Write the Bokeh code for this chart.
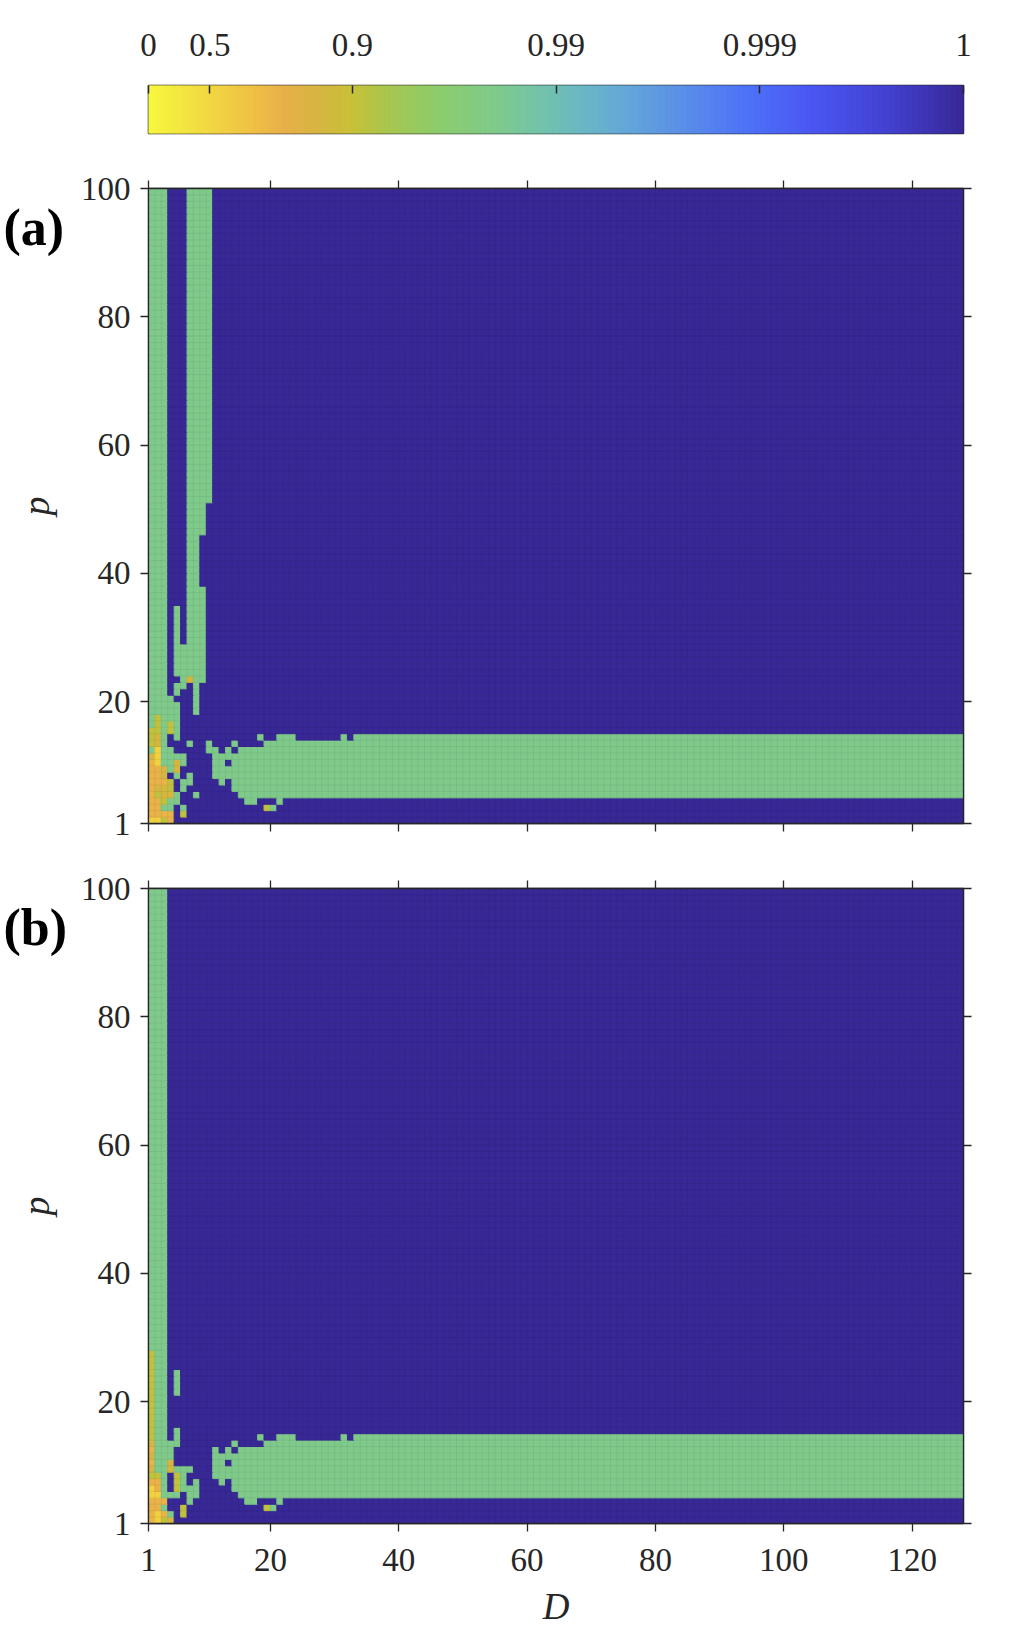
import numpy as np
from bokeh.plotting import figure
from bokeh.layouts import column, row
from bokeh.models import (Range1d, LinearAxis, FixedTicker, CustomJSTickFormatter,
                          ColumnDataSource)
from bokeh.core.properties import value
from bokeh.embed import file_html
from bokeh.resources import INLINE

# ------------------------------------------------------------------ data
D_RANGE = (1, 128)          # x axis (D)
P_RANGE = (1, 100)          # y axis (p)
N_D_CELLS = 127
N_P_CELLS = 99
D_TICKS = [1, 20, 40, 60, 80, 100, 120]
P_TICKS = [1, 20, 40, 60, 80, 100]

CBAR_TICK_VALUES = [0, 0.5, 0.9, 0.99, 0.999, 1]
CBAR_TICK_LABELS = ["0", "0.5", "0.9", "0.99", "0.999", "1"]

# value of each cell code (value shown on the colour bar)
CODE_VALUES = {"B": 1.0, "G": 0.98, "K": 0.91, "L": 0.86, "O": 0.77, "Y": 0.56}

# blocks of cells: (D_first, D_last, p_first, p_last, code); cell (D, p) spans [D, D+1] x [p, p+1]
A_BLOCKS = [
    (1, 3, 1, 99, "G"),
    (7, 10, 51, 99, "G"),
    (7, 9, 46, 50, "G"),
    (7, 8, 38, 45, "G"),
    (7, 9, 24, 37, "G"),
    (5, 5, 24, 34, "G"),
    (6, 6, 24, 28, "G"),
    (37, 127, 5, 14, "G"),
]
B_BLOCKS = [
    (1, 3, 1, 99, "G"),
    (1, 1, 14, 27, "K"),
    (5, 5, 21, 24, "G"),
    (37, 127, 5, 14, "G"),
]

# lower-left detail, D = 1..10, rows from p = 23 (top) down to p = 1
A_DETAIL_LEFT = [
    "GGGBBGLGGB", "GGGBGGBGBB", "GGGBGBBGBB", "GGGGBBBGBB", "GGGGGBBGBB",
    "GGGGGBBGBB", "GKGGGBBBBB", "GKGKGBBBBB", "KKGKGBBBBB", "KLGBGBBBBB",
    "KLGBBBGBBG", "GYGGBBBBBG", "LYGGGGBBBB", "OYGGLGBBBB", "OOLGLBBBBB",
    "OOLBGBGBBB", "OOOKBGGBBB", "OLLKBGBBBB", "OKLLGBBGBB", "OOKGGBBBBB",
    "OOGGBGBBBB", "OOOOBKBBBB", "YYKOBBBBBB",
]
B_DETAIL_LEFT = [
    "KGGBGBBBBB", "KGGBGBBBBB", "KGGBGBBBBB", "KGGBBBBBBB", "KGGBBBBBBB",
    "KGGBBBBBBB", "KGGBBBBBBB", "KGGBBBBBBB", "KGGBGBBBBB", "KGGBGBBBBB",
    "LGGGGBBBBB", "OGGGBBBBBB", "LGGGBBBBBB", "OGGLBBBBBB", "LGGLGGGBBB",
    "KKGBKGBBBB", "OOGBKGBGBB", "YOGBKGGGBB", "YYGGGBGGBB", "OOOBBBGBBB",
    "OOGBBKBBBB", "OYOGBKBBBB", "OYKLBBBBBB",
]
# start of the horizontal band, D = 11..36, rows p = 23 .. 1 (same in both panels)
BAND_DETAIL = [
    "B" * 26, "B" * 26, "B" * 26, "B" * 26, "B" * 26,
    "B" * 26, "B" * 26, "B" * 26, "B" * 26,
    "BBBBBBBGBBGGGBBBBBBBGBGGGG",
    "BBBGBBBB" + "G" * 18,
    "GBGB" + "G" * 22,
    "G" * 26,
    "GGB" + "G" * 23,
    "G" * 26,
    "G" * 26,
    "BGB" + "G" * 23,
    "BBB" + "G" * 23,
    "BBBB" + "G" * 22,
    "BBBBBGGBBBGBBBBBBBBBBBBBBB",
    "BBBBBBBBKGBBBBBBBBBBBBBBBB",
    "B" * 26,
    "B" * 26,
]

# colour map anchors (position along colour bar 0..1 -> colour)
CMAP_POS = [0.0, 0.055, 0.119, 0.166, 0.214, 0.25, 0.293, 0.356, 0.42, 0.475,
            0.515, 0.578, 0.657, 0.74, 0.815, 0.91, 1.0]
CMAP_HEX = ["#f8f83e", "#f2e040", "#f0c444", "#e8b04a", "#d4b640", "#c8c038",
            "#a8c64e", "#8ccc6c", "#80cb88", "#74c4a6", "#6cbcbc", "#64aad6",
            "#5a8ee8", "#4c70f8", "#4a56f2", "#4240d0", "#382896"]

# ------------------------------------------------------------------ helpers
FONT = "Liberation Serif"
AX = "#262626"
T_MAX = 4.0


def to_t(x):
    return float(-np.log10(max(1.0 - x, 10 ** -T_MAX)))


def hex_rgb(h):
    return tuple(int(h[i:i + 2], 16) for i in (1, 3, 5))


def cmap(frac):
    frac = min(max(frac, 0.0), 1.0)
    for i in range(len(CMAP_POS) - 1):
        if frac <= CMAP_POS[i + 1]:
            f = (frac - CMAP_POS[i]) / (CMAP_POS[i + 1] - CMAP_POS[i])
            a, b = hex_rgb(CMAP_HEX[i]), hex_rgb(CMAP_HEX[i + 1])
            return "#%02x%02x%02x" % tuple(int(round(a[k] + f * (b[k] - a[k]))) for k in range(3))
    return CMAP_HEX[-1]


def build_grid(blocks, detail_left):
    grid = [["B"] * N_D_CELLS for _ in range(N_P_CELLS)]
    for d0, d1, p0, p1, code in blocks:
        for r in range(p0 - 1, p1):
            for c in range(d0 - 1, d1):
                grid[r][c] = code
    n = len(detail_left)
    for i in range(n):
        r = n - 1 - i
        row_codes = detail_left[i] + BAND_DETAIL[i]
        for c, ch in enumerate(row_codes):
            grid[r][c] = ch
    return grid


def grid_source(grid):
    left, right, bottom, top, color = [], [], [], [], []
    for r in range(N_P_CELLS):
        c = 0
        while c < N_D_CELLS:
            code = grid[r][c]
            e = c
            while e + 1 < N_D_CELLS and grid[r][e + 1] == code:
                e += 1
            left.append(D_RANGE[0] + c)
            right.append(D_RANGE[0] + e + 1)
            bottom.append(P_RANGE[0] + r)
            top.append(P_RANGE[0] + r + 1)
            color.append(cmap(to_t(CODE_VALUES[code]) / T_MAX))
            c = e + 1
    return ColumnDataSource(dict(left=left, right=right, bottom=bottom, top=top, color=color))


def style_axis(ax, ticks, labels=True):
    ax.ticker = FixedTicker(ticks=ticks)
    ax.axis_line_color = AX
    ax.axis_line_width = 1.3
    ax.major_tick_line_color = AX
    ax.major_tick_line_width = 1.3
    ax.major_tick_out = 8
    ax.major_tick_in = 0
    ax.minor_tick_line_color = None
    ax.major_label_text_font = FONT
    ax.major_label_text_font_size = "33px"
    ax.major_label_text_color = AX
    if not labels:
        ax.formatter = CustomJSTickFormatter(code="return '';")


FW = 815          # frame width (px)
FH = 635          # frame height (px)
TW = 70           # width of the strip holding the panel tag and the y label
BL, BR = 148, 39  # distance of frame from left page edge, right border


def make_panel(blocks, detail_left, tag, border_top, border_bottom, x_labels):
    p = figure(frame_width=FW, frame_height=FH,
               x_range=Range1d(*D_RANGE), y_range=Range1d(*P_RANGE),
               output_backend="svg", toolbar_location=None,
               min_border_left=BL - TW, min_border_right=BR,
               min_border_top=border_top, min_border_bottom=border_bottom)
    p.grid.visible = False
    p.background_fill_color = "white"
    p.outline_line_color = AX
    p.outline_line_width = 1.3

    src = grid_source(build_grid(blocks, detail_left))
    p.quad(left="left", right="right", bottom="bottom", top="top",
           fill_color="color", line_color="color", line_width=1, source=src)

    # faint cell edges
    xs = list(range(D_RANGE[0] + 1, D_RANGE[1]))
    ys = list(range(P_RANGE[0] + 1, P_RANGE[1]))
    p.segment(x0=xs, x1=xs, y0=[P_RANGE[0]] * len(xs), y1=[P_RANGE[1]] * len(xs),
              line_color="black", line_alpha=0.06, line_width=1)
    p.segment(x0=[D_RANGE[0]] * len(ys), x1=[D_RANGE[1]] * len(ys), y0=ys, y1=ys,
              line_color="black", line_alpha=0.06, line_width=1)

    style_axis(p.xaxis[0], D_TICKS, labels=x_labels)
    p.xaxis[0].major_label_standoff = 17
    style_axis(p.yaxis[0], P_TICKS)
    p.yaxis[0].major_label_standoff = 10
    if x_labels:
        p.xaxis[0].axis_label = "D"
        p.xaxis[0].axis_label_text_font = FONT
        p.xaxis[0].axis_label_text_font_style = "italic"
        p.xaxis[0].axis_label_text_font_size = "37px"
        p.xaxis[0].axis_label_text_color = AX
        p.xaxis[0].axis_label_standoff = 12

    top_ax = LinearAxis()
    style_axis(top_ax, D_TICKS, labels=False)
    top_ax.major_label_standoff = 0
    p.add_layout(top_ax, "above")
    right_ax = LinearAxis()
    style_axis(right_ax, P_TICKS, labels=False)
    right_ax.major_label_standoff = 0
    p.add_layout(right_ax, "right")

    # strip on the left with the panel tag and the y-axis label (same vertical frame as panel)
    s = figure(frame_width=TW, frame_height=FH, title=None,
               x_range=Range1d(0, TW), y_range=Range1d(*P_RANGE),
               output_backend="svg", toolbar_location=None,
               x_axis_location=None, y_axis_location=None,
               min_border_left=0, min_border_right=0,
               min_border_top=border_top, min_border_bottom=border_bottom)
    s.grid.visible = False
    s.outline_line_color = None
    dy = (P_RANGE[1] - P_RANGE[0]) / FH
    s.text(x=[3], y=[P_RANGE[1] - 39 * dy], text=[tag], text_font=value(FONT),
           text_font_style="bold", text_font_size="52px", text_color="black",
           text_align="left", text_baseline="middle")
    s.text(x=[35], y=[(P_RANGE[0] + P_RANGE[1]) / 2], text=["p"], angle=np.pi / 2,
           text_font=value(FONT), text_font_style="italic", text_font_size="38px",
           text_color=AX, text_align="center", text_baseline="middle")
    return row(s, p, spacing=0)


# ------------------------------------------------------------------ colour bar
cb = figure(frame_width=FW, frame_height=48, x_range=Range1d(0, T_MAX), y_range=Range1d(0, 1),
            output_backend="svg", toolbar_location=None,
            x_axis_location=None, y_axis_location=None,
            min_border_left=BL, min_border_right=BR, min_border_top=85, min_border_bottom=17)
cb.grid.visible = False
cb.outline_line_color = AX
cb.outline_line_width = 1.5
n_seg = 320
edges = np.linspace(0, T_MAX, n_seg + 1)
seg_colors = [cmap((edges[i] + edges[i + 1]) / 2 / T_MAX) for i in range(n_seg)]
cb.quad(left=edges[:-1], right=edges[1:], bottom=0, top=1,
        fill_color=seg_colors, line_color=seg_colors, line_width=1)
cb_ticks = [to_t(v) for v in CBAR_TICK_VALUES]
cb_ax = LinearAxis(ticker=FixedTicker(ticks=cb_ticks),
                   formatter=CustomJSTickFormatter(
                       args=dict(tvals=cb_ticks, labs=CBAR_TICK_LABELS),
                       code="""
let k = -1;
for (let j = 0; j < tvals.length; j++) {
    if (Math.abs(tvals[j] - tick) < 1e-6) { k = j; }
}
return k >= 0 ? labs[k] : '';
"""))
cb_ax.axis_line_color = None
cb_ax.major_tick_line_color = AX
cb_ax.major_tick_line_width = 1.5
cb_ax.major_tick_in = 8
cb_ax.major_tick_out = 0
cb_ax.minor_tick_line_color = None
cb_ax.major_label_text_font = FONT
cb_ax.major_label_text_font_size = "33px"
cb_ax.major_label_text_color = AX
cb_ax.major_label_standoff = 30
cb.add_layout(cb_ax, "above")

# ------------------------------------------------------------------ panels
pa = make_panel(A_BLOCKS, A_DETAIL_LEFT, "(a)", 38, 33, x_labels=False)
pb = make_panel(B_BLOCKS, B_DETAIL_LEFT, "(b)", 32, 113, x_labels=True)

layout = column(cb, pa, pb, spacing=0)
open("out.html", "w").write(file_html(layout, INLINE))
